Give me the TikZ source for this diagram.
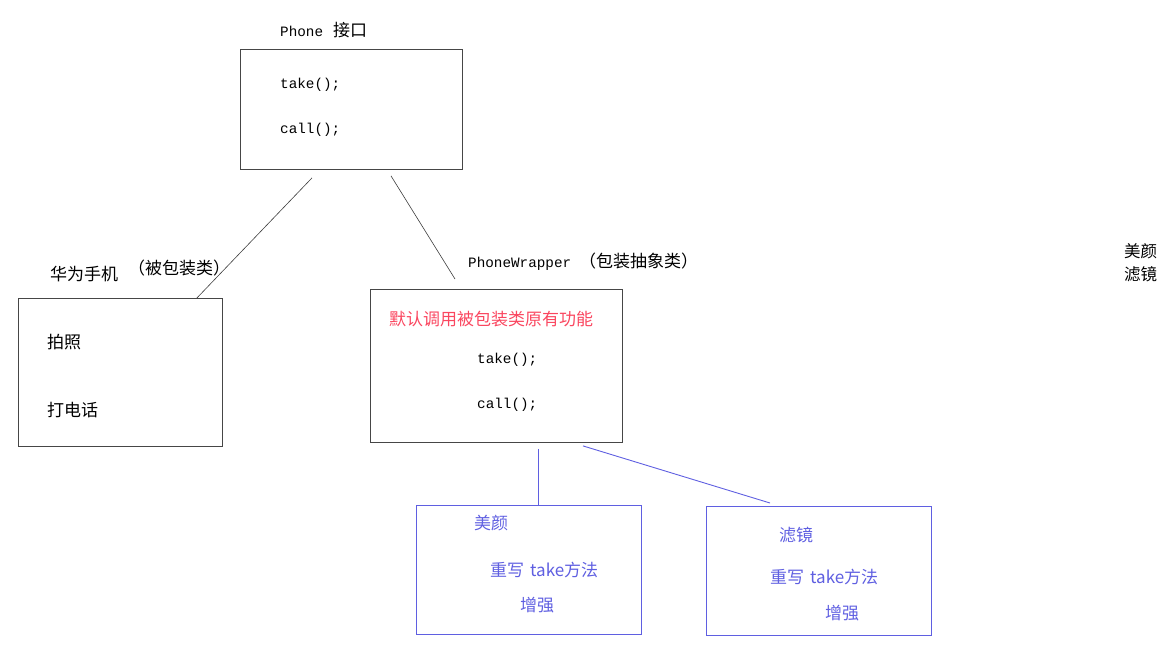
\documentclass[tikz,border=0pt]{standalone}
\usepackage{fontspec}
\setmainfont{Noto Sans CJK SC}
\newfontfamily\codefont{Liberation Mono}
\usetikzlibrary{calc,positioning}

\definecolor{boxgray}{RGB}{70,70,70}
\definecolor{linegray}{RGB}{60,60,60}
\definecolor{subblue}{RGB}{95,95,225}
\definecolor{notered}{RGB}{250,70,95}

\begin{document}
\begin{tikzpicture}[
  x=1pt,y=-1pt,
  box/.style    ={draw=boxgray,line width=0.9pt,anchor=north west,inner sep=0pt},
  subbox/.style ={draw=subblue,line width=0.9pt,anchor=north west,inner sep=0pt},
  cjk/.style    ={anchor=west,inner sep=0pt,font=\fontsize{17}{19}\selectfont},
  code/.style   ={anchor=west,inner sep=0pt,font=\codefont\fontsize{14.3}{16}\selectfont},
  bluetxt/.style={cjk,text=subblue},
  link/.style   ={draw=linegray,line width=0.6pt},
  bluelink/.style={draw=subblue,line width=0.9pt},
]
\useasboundingbox (0,0) rectangle (1171,648);

%% --- Phone interface (top) ---
\node[box,minimum width=222pt,minimum height=120pt] (phone) at (240,49) {};
\node[cjk] (phonettl) at (280,30) {{\codefont\fontsize{14.3}{16}\selectfont Phone}\hspace{10pt}接口};
\node[code] (phtake) at (280,85) {take();};
\node[code] (phcall) at (280,130) {call();};

%% --- Huawei phone (left) ---
\node[box,minimum width=204pt,minimum height=148pt] (huawei) at (18,298) {};
\node[cjk] (huaweittl) at (50,274) {华为手机};
\node[cjk] (huaweisub) at (128,268) {（被包装类）};
\node[cjk] (photo) at (47,342) {拍照};
\node[cjk] (dial) at (47,410) {打电话};

%% --- PhoneWrapper (middle) ---
\node[box,minimum width=252pt,minimum height=153pt] (wrapper) at (370,289) {};
\node[cjk] (wrapperttl) at (468,262) {{\codefont\fontsize{14.3}{16}\selectfont PhoneWrapper}\hspace{8pt}（包装抽象类）};
\node[cjk,text=notered] (wrapnote) at (389,319) {默认调用被包装类原有功能};
\node[code] (wrtake) at (477,360) {take();};
\node[code] (wrcall) at (477,405) {call();};

%% --- Decorators (bottom) ---
\node[subbox,minimum width=225pt,minimum height=129pt] (beauty) at (416,505) {};
\node[bluetxt] (beautyttl) at (474,523) {美颜};
\node[bluetxt] (beautyovr) at (490,570) {重写\hspace{6pt}take方法};
\node[bluetxt] (beautyenh) at (520,605) {增强};

\node[subbox,minimum width=225pt,minimum height=129pt] (filter) at (706,506) {};
\node[bluetxt] (filterttl) at (779,535) {滤镜};
\node[bluetxt] (filterovr) at (770,577) {重写\hspace{6pt}take方法};
\node[bluetxt] (filterenh) at (825,613) {增强};

%% --- Side note ---
\node[cjk,align=left,anchor=north west,font=\fontsize{16.5}{23}\selectfont] (sidenote) at (1124,243) {美颜\\滤镜};

%% --- Connectors ---
\draw[link] ($(phone.south west)+(72,8)$) -- ($(huawei.north east)+(-26,0)$);
\draw[link] ($(phone.south west)+(151,6)$) -- ($(wrapper.north west)+(85,-10)$);
\draw[bluelink] ($(wrapper.south west)+(168,6)$) -- ($(beauty.north west)+(122,0)$);
\draw[bluelink] ($(wrapper.south west)+(213,3)$) -- ($(filter.north west)+(64,-3)$);

\end{tikzpicture}
\end{document}
